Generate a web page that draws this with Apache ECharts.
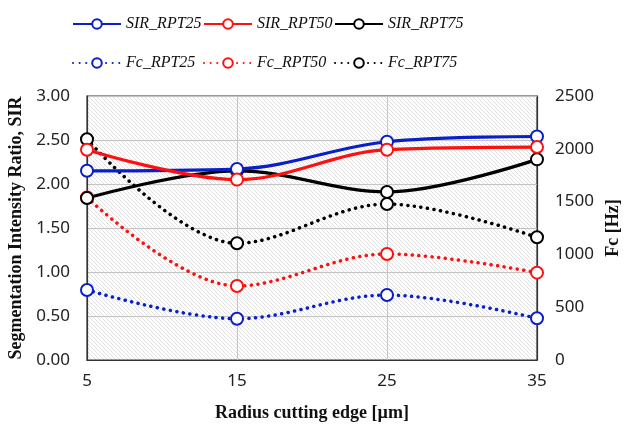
<!DOCTYPE html>
<html>
<head>
<meta charset="utf-8">
<script src="https://cdn.jsdelivr.net/npm/echarts@6/dist/echarts.min.js"></script>
<style>
  html, body { margin: 0; padding: 0; background: #fff; }
  #chart { width: 627px; height: 430px; }
</style>
</head>
<body>
<div id="chart"></div>
<script>
// Cutting edge radius (µm)
const radius = ['5', '15', '25', '35'];

// Segmentation intensity ratio (left axis)
const sirRpt25 = [2.15, 2.17, 2.48, 2.54];
const sirRpt50 = [2.39, 2.05, 2.39, 2.42];
const sirRpt75 = [1.84, 2.15, 1.91, 2.28];

// Characteristic frequency in Hz (right axis)
const fcRpt25 = [663, 391, 615, 395];
const fcRpt50 = [1540, 701, 1004, 827];
const fcRpt75 = [2090, 1105, 1477, 1162];

const sirTicks = { min: 0, max: 3, step: 0.5 };
const fcTicks = { min: 0, max: 2500, step: 500 };

// Diagonal hatch fill for the plot background
function hatch() {
  const c = document.createElement('canvas');
  c.width = 4; c.height = 4;
  const g = c.getContext('2d');
  g.fillStyle = '#ffffff';
  g.fillRect(0, 0, 4, 4);
  g.fillStyle = '#e0e0e0';
  for (let i = 0; i < 4; i++) g.fillRect(i, i, 1, 1);
  return { image: c, repeat: 'repeat' };
}

const serif = '"Liberation Serif", "DejaVu Serif", serif';
const sans = '"Noto Sans", "Open Sans", sans-serif';

function solid(name, data, color) {
  return {
    name, type: 'line', data, yAxisIndex: 0, smooth: 0.35,
    symbol: 'emptyCircle', symbolSize: 12,
    lineStyle: { color, width: 3.2 },
    itemStyle: { color, borderColor: color, borderWidth: 2.5 }
  };
}
function dotted(name, data, color) {
  return {
    name, type: 'line', data, yAxisIndex: 1, smooth: 0.35,
    symbol: 'emptyCircle', symbolSize: 12,
    lineStyle: { color, width: 3.5, type: [0.1, 6.5], cap: 'round' },
    itemStyle: { color, borderColor: color, borderWidth: 2.5 }
  };
}

const legendItems = [
  ['SIR_RPT25', 72, 16], ['SIR_RPT50', 203, 16], ['SIR_RPT75', 334, 16],
  ['Fc_RPT25', 72, 55], ['Fc_RPT50', 203, 55], ['Fc_RPT75', 334, 55]
];

const chart = echarts.init(document.getElementById('chart'), null, { renderer: 'canvas' });
chart.setOption({
  animation: false,
  backgroundColor: '#ffffff',
  legend: legendItems.map(([name, left, top]) => ({
    data: [name], left, top, padding: 0, itemWidth: 48, itemHeight: 12, itemGap: 0,
    textStyle: { fontFamily: serif, fontStyle: 'italic', fontSize: 16, color: '#111' }
  })),
  grid: {
    left: 87, right: 90, top: 96, bottom: 70, outerBoundsMode: 'none', containLabel: false,
    show: true, backgroundColor: hatch(), borderColor: '#333', borderWidth: 1.2
  },
  xAxis: {
    type: 'category', data: radius, boundaryGap: false,
    name: 'Radius cutting edge [µm]', nameLocation: 'middle', nameGap: 44,
    nameTextStyle: { fontFamily: serif, fontWeight: 'bold', fontSize: 18, color: '#111' },
    axisLine: { lineStyle: { color: '#333', width: 1.2 } },
    axisTick: { show: false },
    axisLabel: { fontFamily: sans, fontSize: 17, color: '#222', margin: 13 },
    splitLine: { show: true, lineStyle: { color: '#c4c4c4', width: 1 } }
  },
  yAxis: [
    {
      type: 'value', min: sirTicks.min, max: sirTicks.max, interval: sirTicks.step,
      name: 'Segmentation Intensity Ratio, SIR', nameLocation: 'middle', nameGap: 62, nameRotate: 90,
      nameTextStyle: { fontFamily: serif, fontWeight: 'bold', fontSize: 18, color: '#111' },
      axisLine: { show: true, lineStyle: { color: '#333', width: 1.2 } },
      axisTick: { show: false },
      axisLabel: { fontFamily: sans, fontSize: 17, color: '#222', margin: 17, formatter: v => v.toFixed(2) },
      splitLine: { show: true, lineStyle: { color: '#c4c4c4', width: 1 } }
    },
    {
      type: 'value', min: fcTicks.min, max: fcTicks.max, interval: fcTicks.step, position: 'right',
      name: 'Fc [Hz]', nameLocation: 'middle', nameGap: 57, nameRotate: 90,
      nameTextStyle: { fontFamily: serif, fontWeight: 'bold', fontSize: 18, color: '#111' },
      axisLine: { show: true, lineStyle: { color: '#333', width: 1.2 } },
      axisTick: { show: false },
      axisLabel: { fontFamily: sans, fontSize: 17, color: '#222', margin: 18, formatter: v => String(v) },
      splitLine: { show: false }
    }
  ],
  series: [
    dotted('Fc_RPT25', fcRpt25, '#0a1fc8'),
    dotted('Fc_RPT50', fcRpt50, '#ff1010'),
    dotted('Fc_RPT75', fcRpt75, '#000000'),
    solid('SIR_RPT75', sirRpt75, '#000000'),
    solid('SIR_RPT25', sirRpt25, '#0a1fc8'),
    solid('SIR_RPT50', sirRpt50, '#ff1010')
  ]
});
</script>
</body>
</html>
